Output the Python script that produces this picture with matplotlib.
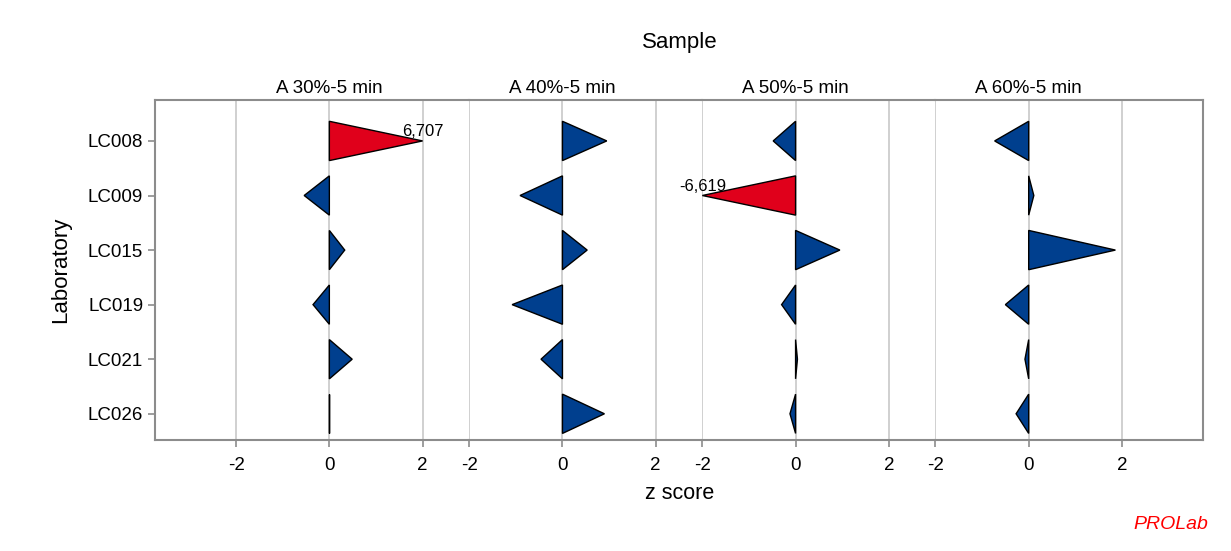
import matplotlib.pyplot as plt
from matplotlib.patches import Polygon

plt.rcParams["font.family"] = ["Liberation Sans", "DejaVu Sans"]

labs = ["LC008", "LC009", "LC015", "LC019", "LC021", "LC026"]
samples = ["A 30%-5 min", "A 40%-5 min", "A 50%-5 min", "A 60%-5 min"]
z_30 = [6.707, -0.54, 0.33, -0.35, 0.49, 0.0]
z_40 = [0.95, -0.91, 0.53, -1.08, -0.46, 0.9]
z_50 = [-0.48, -6.619, 0.95, -0.3, 0.04, -0.12]
z_60 = [-0.73, 0.11, 1.86, -0.5, -0.08, -0.27]
scores = [z_30, z_40, z_50, z_60]

limit = 2.0
blue = "#003f8e"
red = "#e0001b"
frame = "#8c8c8c"
grid = "#c8c8c8"

xlims = [(-3.74, 3), (-2, 3), (-2, 3), (-2, 3.74)]
widths = [hi - lo for lo, hi in xlims]

fig, axes = plt.subplots(1, 4, figsize=(12.31, 5.51), dpi=100, sharey=True,
                         gridspec_kw={"width_ratios": widths, "wspace": 0})
fig.subplots_adjust(left=0.1259, right=0.9773, top=0.8185, bottom=0.2015)

half = 0.36
for k, ax in enumerate(axes):
    ax.set_xlim(*xlims[k])
    ax.set_ylim(5.48, -0.75)
    for g in (-2, 0, 2):
        ax.axvline(g, color=grid, lw=1.2, zorder=0)
    for i, z in enumerate(scores[k]):
        zc = max(-limit, min(limit, z))
        col = red if abs(z) > limit else blue
        tri = Polygon([(0, i - half), (zc, i), (0, i + half)], closed=True,
                      facecolor=col, edgecolor="black", lw=1.0, zorder=3)
        ax.add_patch(tri)
        if abs(z) > limit:
            ax.text(zc, i - 0.03, f"{z:.3f}".replace(".", ","), ha="center",
                    va="bottom", fontsize=12, zorder=4)
    ax.set_xticks([-2, 0, 2])
    ax.set_xticklabels(["-2", "0", "2"])
    # sample title sits over the zero line of its panel
    ax.annotate(samples[k], xy=(0, 1), xycoords=ax.get_xaxis_transform(),
                xytext=(0, 2), textcoords="offset points", ha="center",
                va="bottom", fontsize=13.5)
    ax.tick_params(axis="x", colors=frame, labelcolor="black", labelsize=13.5,
                   length=5, width=1.2, pad=7)
    for s in ax.spines.values():
        s.set_color(frame)
        s.set_linewidth(1.5)
    if k > 0:
        ax.spines["left"].set_visible(False)
        ax.tick_params(axis="y", left=False)
    if k < 3:
        ax.spines["right"].set_visible(False)

axes[0].set_yticks(range(len(labs)))
axes[0].set_yticklabels(labs)
axes[0].tick_params(axis="y", colors=frame, labelcolor="black", labelsize=13.5,
                    length=5, width=1.2)
axes[0].set_ylabel("Laboratory", fontsize=16, labelpad=12)

fig.text(0.552, 0.922, "Sample", ha="center", va="center", fontsize=16)
fig.text(0.552, 0.105, "z score", ha="center", va="center", fontsize=15.5)
fig.text(0.951, 0.048, "PROLab", ha="center", va="center", fontsize=14,
         color="red", style="italic")

fig.savefig("out.png", dpi=100, facecolor="white")
